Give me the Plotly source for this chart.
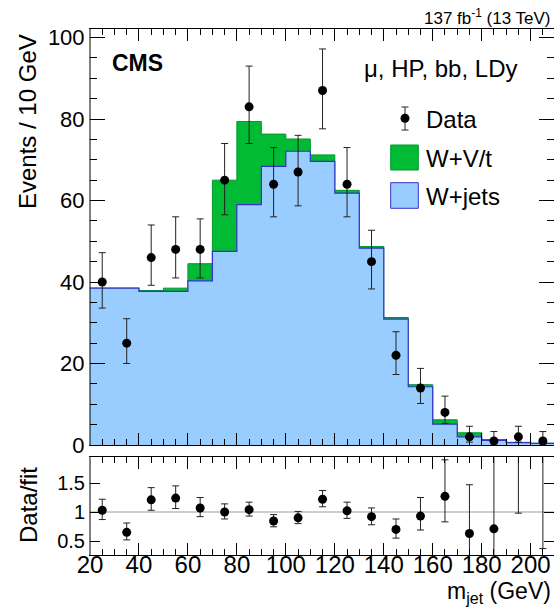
import plotly.graph_objects as go

# ---------------- data ----------------
bin_edges = [20, 30, 40, 50, 60, 70, 80, 90, 100, 110, 120, 130, 140, 150, 160, 170, 180, 190, 200, 210]
bin_centers = [25, 35, 45, 55, 65, 75, 85, 95, 105, 115, 125, 135, 145, 155, 165, 175, 185, 195, 205]

wjets = [38.5, 38.5, 37.7, 37.7, 40.3, 47.5, 59.0, 68.4, 72.1, 69.6, 61.8, 48.3, 30.9, 14.3, 5.1, 2.0, 1.15, 0.6, 0.4]
wvt = [0.0, 0.0, 0.2, 0.8, 4.2, 17.5, 20.4, 7.9, 3.0, 1.6, 0.7, 0.4, 0.4, 0.5, 1.1, 1.0, 0.2, 0.05, 0.02]

data = [40, 25, 46, 48, 48, 65, 83, 64, 67, 87, 64, 45, 22, 14, 8, 2, 1, 2, 1]
data_err_up = [7.2, 6.0, 8.0, 8.0, 7.5, 9.0, 10.0, 9.0, 9.0, 10.2, 9.0, 7.7, 5.8, 4.8, 4.0, 2.6, 2.3, 2.6, 2.3]
data_err_dn = [6.4, 5.0, 6.8, 7.0, 7.0, 8.5, 9.0, 8.0, 8.3, 9.4, 8.0, 6.7, 4.7, 3.8, 2.7, 1.3, 0.8, 1.3, 0.8]

ratio = [1.03, 0.65, 1.21, 1.24, 1.07, 1.00, 1.04, 0.845, 0.90, 1.22, 1.02, 0.92, 0.70, 0.93, 1.27, 0.63, 0.71, 3.3, 2.5]
ratio_err_up = [0.19, 0.16, 0.21, 0.21, 0.18, 0.14, 0.13, 0.11, 0.11, 0.15, 0.15, 0.15, 0.18, 0.32, 0.63, 0.84, 1.7, 3.0, 3.0]
ratio_err_dn = [0.16, 0.13, 0.18, 0.18, 0.15, 0.12, 0.11, 0.10, 0.10, 0.13, 0.13, 0.14, 0.15, 0.24, 0.44, 0.63, 0.71, 2.32, 2.13]

x_ticks = [20, 40, 60, 80, 100, 120, 140, 160, 180, 200]
y_ticks = [0, 20, 40, 60, 80, 100]
r_ticks = [0.5, 1, 1.5]
r_ticklabels = ["0.5", "1", "1.5"]

# ---------------- style ----------------
FONT = "Liberation Sans, Arial, Helvetica, sans-serif"
GREEN = "#00bb33"
GREEN_LINE = "#00992a"
BLUE = "#99ccff"
BLUE_LINE = "#3333cc"

W, H = 554, 607
ML, MR, MT, MB = 90, 0, 29, 52
PW, PH = W - ML - MR, H - MT - MB


def px(xp):
    return (xp - ML) / PW


def py(yp):
    return (H - MB - yp) / PH


total = [a + b for a, b in zip(wjets, wvt)]
step_total = total + [total[-1]]
step_wjets = wjets + [wjets[-1]]

fig = go.Figure()

fig.add_trace(go.Scatter(
    x=bin_edges, y=step_total, mode="lines", line=dict(shape="hv", color=GREEN_LINE, width=1),
    fill="tozeroy", fillcolor=GREEN, xaxis="x", yaxis="y", showlegend=False, hoverinfo="skip"))
fig.add_trace(go.Scatter(
    x=bin_edges, y=step_wjets, mode="lines", line=dict(shape="hv", color=BLUE_LINE, width=1.2),
    fill="tozeroy", fillcolor=BLUE, xaxis="x", yaxis="y", showlegend=False, hoverinfo="skip"))
fig.add_trace(go.Scatter(
    x=bin_centers, y=data, mode="markers",
    marker=dict(color="black", size=9),
    error_y=dict(type="data", symmetric=False, array=data_err_up, arrayminus=data_err_dn,
                 color="#222222", thickness=1, width=3.5),
    xaxis="x", yaxis="y", showlegend=False))

fig.add_trace(go.Scatter(
    x=bin_centers, y=ratio, mode="markers",
    marker=dict(color="black", size=9),
    error_y=dict(type="data", symmetric=False, array=ratio_err_up, arrayminus=ratio_err_dn,
                 color="#222222", thickness=1, width=3.5),
    xaxis="x2", yaxis="y2", showlegend=False))

xr = [20, 20 + PW / 2.448]
main_bottom = py(445)
ratio_top = py(457.3)

axis_common = dict(showgrid=False, zeroline=False, showline=True, linewidth=1,
                   ticks="inside", tickcolor="black", tickwidth=1)
# y-axis lines are transparent (right frame lies outside the picture); left frame drawn as shapes
fig.update_layout(
    width=W, height=H, margin=dict(l=ML, r=MR, t=MT, b=MB),
    paper_bgcolor="white", plot_bgcolor="white",
    font=dict(family=FONT, color="black"),
    xaxis=dict(domain=[0, 1], range=xr, anchor="y", tickvals=x_ticks, showticklabels=False,
               ticklen=12, mirror="ticks", linecolor="black",
               minor=dict(dtick=5, tick0=0, ticklen=6, ticks="inside", tickcolor="black", showgrid=False),
               **axis_common),
    yaxis=dict(domain=[main_bottom, 1], range=[0, 102.1], anchor="x", tickvals=y_ticks,
               ticklen=15, mirror="ticks", tickfont=dict(size=22), linecolor="rgba(0,0,0,0)",
               minor=dict(dtick=5, tick0=0, ticklen=7, ticks="inside", tickcolor="black", showgrid=False),
               **axis_common),
    xaxis2=dict(domain=[0, 1], range=xr, anchor="y2", tickvals=x_ticks, ticklen=12, mirror="ticks",
                tickfont=dict(size=24), linecolor="black", ticklabelstandoff=-12,
                minor=dict(dtick=5, tick0=0, ticklen=6, ticks="inside", tickcolor="black", showgrid=False),
                **axis_common),
    yaxis2=dict(domain=[0, ratio_top], range=[0.259, 1.943], anchor="x2", tickvals=r_ticks,
                ticktext=r_ticklabels, ticklen=10, mirror="ticks", tickfont=dict(size=20),
                linecolor="rgba(0,0,0,0)", **axis_common),
)

shapes = []
# left frame lines
shapes.append(dict(type="line", xref="x domain", yref="y domain", x0=0, x1=0, y0=0, y1=1,
                   line=dict(color="black", width=1)))
shapes.append(dict(type="line", xref="x2 domain", yref="y2 domain", x0=0, x1=0, y0=0, y1=1,
                   line=dict(color="black", width=1)))
# ratio reference line at 1
shapes.append(dict(type="line", xref="x2 domain", yref="y2", x0=0, x1=1, y0=1, y1=1,
                   line=dict(color="#999999", width=1), layer="below"))

# legend: Data marker
lx = px(405)
shapes.append(dict(type="line", xref="paper", yref="paper", x0=lx, x1=lx, y0=py(130), y1=py(107),
                   line=dict(color="#222222", width=1)))
for yy in (107, 130):
    shapes.append(dict(type="line", xref="paper", yref="paper", x0=px(401.5), x1=px(408.5),
                       y0=py(yy), y1=py(yy), line=dict(color="#222222", width=1)))
shapes.append(dict(type="circle", xref="paper", yref="paper", x0=px(400.5), x1=px(409.5),
                   y0=py(122.8), y1=py(113.8), fillcolor="black", line=dict(color="black", width=0)))
# legend boxes
shapes.append(dict(type="rect", xref="paper", yref="paper", x0=px(390.7), x1=px(418.3),
                   y0=py(170), y1=py(145), fillcolor=GREEN, line=dict(color=GREEN_LINE, width=1)))
shapes.append(dict(type="rect", xref="paper", yref="paper", x0=px(390.7), x1=px(418.3),
                   y0=py(208.3), y1=py(182.7), fillcolor=BLUE, line=dict(color=BLUE_LINE, width=1)))
fig.update_layout(shapes=shapes)

ann = []


def add_text(text, xp_, yp_, size, xanchor="left", bold=False, angle=0):
    ann.append(dict(text=("<b>%s</b>" % text) if bold else text, xref="paper", yref="paper",
                    x=px(xp_), y=py(yp_), xanchor=xanchor, yanchor="middle", showarrow=False,
                    textangle=angle, font=dict(size=size, family=FONT, color="black")))


add_text("CMS", 110, 63, 23, bold=True)
add_text("\u03bc, HP, bb, LDy", 519, 68, 24, xanchor="right")
add_text("137 fb<sup>-1</sup> (13 TeV)", 553, 17, 17, xanchor="right")
add_text("Data", 424, 119, 24)
add_text("W+V/t", 424, 158, 24)
add_text("W+jets", 424, 196, 24)
add_text("Events / 10 GeV", 27, 122, 24, xanchor="center", angle=-90)
add_text("Data/fit", 28, 505, 24, xanchor="center", angle=-90)
add_text("m<sub>jet</sub> (GeV)", 553, 592.5, 23, xanchor="right")
fig.update_layout(annotations=ann)

fig.write_html("out.html")
